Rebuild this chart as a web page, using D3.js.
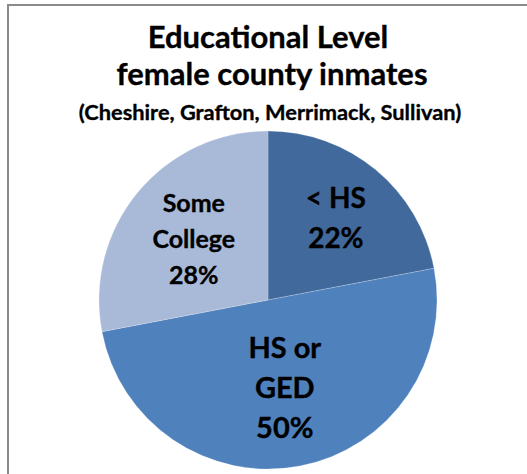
<!DOCTYPE html>
<html>
<head>
<meta charset="utf-8">
<script src="https://cdn.jsdelivr.net/npm/d3@7"></script>
<style>
  body { margin: 0; background: #fff; }
  text { font-family: Lato, "Open Sans", sans-serif; font-weight: bold; fill: #000; stroke: #000; stroke-width: 0.35px; }
</style>
</head>
<body>
<div class="content"></div>
<script>
const categories = ['< HS', 'HS or GED', 'Some College'];
const values = [22, 50, 28];
const labelLines = [['< HS'], ['HS or', 'GED'], ['Some', 'College']];
const titleLines = ['Educational Level', 'female county inmates'];
const subtitle = '(Cheshire, Grafton, Merrimack, Sullivan)';

const [svgWidth, svgHeight] = [527, 474];
const svg = d3.select('.content')
  .append('svg')
  .attr('width', svgWidth)
  .attr('height', svgHeight);

// chart frame (only the top and left edges are in view)
svg.append('path')
  .attr('d', `M8,${svgHeight} L8,5 L${svgWidth},5`)
  .attr('fill', 'none')
  .attr('stroke', '#8a8a8a')
  .attr('stroke-width', 2);

svg.selectAll('text.title')
  .data(titleLines)
  .enter()
  .append('text')
  .classed('title', true)
  .attr('x', (d, i) => i ? 272 : 268)
  .attr('y', (d, i) => 48 + 37*i)
  .attr('text-anchor', 'middle')
  .style('font-size', '31px')
  .text(d => d);

svg.append('text')
  .attr('x', 270)
  .attr('y', 120)
  .attr('text-anchor', 'middle')
  .style('font-size', '21.8px')
  .text(subtitle);

const [cx, cy, radius] = [268, 300, 169];
const colors = d3.scaleOrdinal()
  .domain(categories)
  .range(['#41699b', '#4f81bd', '#a9bad8']);

const pie = d3.pie().sort(null).value(d => d.value);
const arcs = pie(categories.map((c, i) => ({cat: c, value: values[i], lines: labelLines[i]})));
const arc = d3.arc().innerRadius(0).outerRadius(radius);

const total = d3.sum(values);
// label placement / type per slice
const labelRadius = [0.63, 0.53, 0.57];
const fontSizes = [28, 29, 25];
const lineGaps = [40, 40, 36];

const g = svg.append('g').attr('transform', `translate(${cx},${cy})`);
g.selectAll('path.slice')
  .data(arcs)
  .enter()
  .append('path')
  .classed('slice', true)
  .attr('d', arc)
  .attr('fill', d => colors(d.data.cat))
  .attr('stroke', 'rgba(255,255,255,0.35)')
  .attr('stroke-width', 0.6);

g.selectAll('text.label')
  .data(arcs)
  .enter()
  .append('text')
  .classed('label', true)
  .attr('text-anchor', 'middle')
  .style('font-size', (d, i) => fontSizes[i] + 'px')
  .each((d, i, node) => {
    const r = radius * labelRadius[i] * 2;
    const [x, y] = d3.arc().innerRadius(0).outerRadius(r).centroid(d);
    const lines = d.data.lines.concat([Math.round(d.data.value / total * 100) + '%']);
    const gap = lineGaps[i];
    const y0 = y - gap * (lines.length - 1) / 2 + fontSizes[i] * 0.36;
    d3.select(node[i])
      .selectAll('tspan')
      .data(lines)
      .enter()
      .append('tspan')
      .attr('x', x)
      .attr('y', (l, j) => y0 + gap * j)
      .text(l => l);
  });
</script>
</body>
</html>
